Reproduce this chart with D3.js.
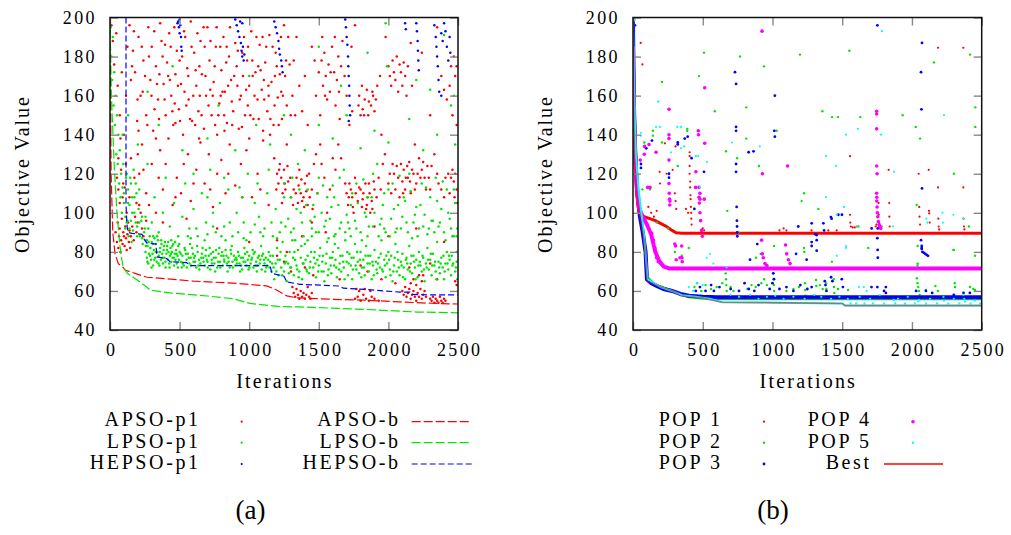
<!DOCTYPE html>
<html>
<head>
<meta charset="utf-8">
<script src="https://cdn.jsdelivr.net/npm/d3@7"></script>
<style>
  body { margin: 0; background: #fff; }
  text { font-family: "Liberation Serif", serif; fill: #000; }
  .tick text { font-size: 18px; letter-spacing: 2.4px; font-family: "Liberation Serif", serif; }
  .tick line { stroke: #888; stroke-width: 1.4; }
  .domain { display: none; }
</style>
</head>
<body>
<script>
// ---- shared axis values ----
const xTicks = [0, 500, 1000, 1500, 2000, 2500];
const yTicks = [40, 60, 80, 100, 120, 140, 160, 180, 200];

// ---- panel (a) ----
const legendA1 = ["APSO-p1", "LPSO-p1", "HEPSO-p1"];
const legendA2 = ["APSO-b", "LPSO-b", "HEPSO-b"];

const apsoB = [[0,200],[8,120],[20,90],[36,79],[60,74],[95,72],[108,70.7],[180,69],[265,67],[410,66.2],[600,65],[885,64],[1125,62.6],[1197,60.5],[1270,57.5],[1340,56.5],[1600,55.7],[1820,55.3],[2083,54.4],[2300,53.7],[2500,53.3]];
const lpsoB = [[0,200],[10,160],[30,125],[50,100],[70,84],[85,76],[95,72],[125,69],[167,67],[264,62],[287,60.5],[430,59],[700,57.4],[885,56],[1005,53.6],[1221,52],[1365,51.8],[1845,50.5],[2205,49.2],[2500,48.8]];
const hepsoB = [[115,200],[115,104],[120,96],[125,92],[130,90],[158,89.5],[230,89],[240,87],[265,84.5],[330,84],[337,77.4],[410,76.5],[431,75],[550,74.5],[575,73],[1150,73],[1163,69],[1250,67.5],[1270,64.6],[1365,63.4],[1650,62.5],[1675,61.4],[1850,60.7],[2083,59.4],[2155,59.4],[2170,58.2],[2320,58],[2500,58]];

const apsoP1 = [
  // upper region
  [10,196],[20,188],[30,176],[45,192],[55,165],[70,150],[85,172],[100,140],[115,160],
  [140,196],[165,183],[180,172],[205,190],[220,160],[240,178],[260,150],[275,195],[290,168],[300,185],[310,142],[330,175],[345,158],[360,197],[370,188],[385,166],[400,150],[410,177],[425,192],[440,160],[455,145],[470,171],[480,183],[495,153],[510,166],[525,140],[540,190],[555,174],[565,158],[580,198],[590,147],[605,182],[620,165],[635,152],[650,188],[660,171],[675,143],[690,160],[700,195],[715,178],[730,150],[745,167],[760,185],[770,140],[785,156],[800,173],[815,190],[825,162],[840,146],[855,180],[870,168],[885,152],[900,187],[910,175],[925,143],[940,160],[955,170],[970,150],[985,178],[1000,165],[1015,193],[1030,148],[1045,172],[1060,158],[1075,186],[1090,163],[1100,142],[1115,177],[1130,152],[1145,191],[1160,167],[1175,145],[1190,182],[1205,159],[1220,171],[1235,148],[1250,196],[1270,155],[1290,176],
  [150,168],[195,147],[235,162],[280,180],[320,153],[355,171],[395,186],[430,168],[465,156],[500,178],[535,162],[575,148],[615,173],[645,160],[680,185],[720,163],[755,145],[795,160],[835,177],[875,157],[915,165],[950,182],[990,155],[1025,170],[1065,175],[1105,168],[1140,160],[1185,170],[1230,162],[1265,178],
  [125,185],[158,175],[172,193],[198,158],[228,185],[252,170],[268,145],[298,160],[318,193],[338,166],[352,148],[378,180],[392,158],[418,170],[436,185],[448,152],[462,195],[488,165],[503,147],[518,180],[532,193],[548,155],[562,170],[586,185],[598,160],[612,145],[628,192],[642,175],[658,150],[672,195],[686,170],[708,155],[722,188],[738,160],[752,175],[766,195],[778,150],[792,185],[808,162],[822,142],[838,185],[848,165],[862,195],[878,145],[892,170],[918,183],[932,158],[948,144],[962,190],[978,163],[992,185],[1008,150],[1022,178],[1038,160],[1052,190],[1068,148],[1082,173],[1096,190],[1108,158],[1122,185],[1138,165],[1152,148],[1168,185],[1182,155],[1198,175],[1212,145],[1228,190],[1242,160],[1258,170],[1280,190],[1298,150],
  [205,142],[330,138],[470,146],[640,138],[820,150],[1000,138],[1150,140],[1270,135],
  [1320,178],[1340,190],[1360,165],[1380,152],[1400,170],[1420,145],[1450,185],[1480,160],[1500,172],[1510,150],[1520,178],[1530,165],[1540,182],[1550,170],[1560,158],[1570,176],[1580,162],[1595,185],[1610,172],[1620,155],[1630,168],[1640,180],[1650,148],[1660,175],[1670,188],[1700,160],[1720,145],[1740,152],[1760,196],[1790,160],[1800,150],[1815,153],[1830,158],[1845,163],[1860,157],[1875,155],[1890,160],[1900,152],[1920,165],[1950,140],[1980,190],[2000,175],[2010,170],[2030,178],[2050,168],[2070,162],[2090,172],[2100,165],[2110,177],[2130,160],[2160,187],[2190,135],[2240,182],[2300,150],[2350,195],[2380,170],[2400,163],[2420,158],[2450,175],[2480,170],[2490,145],
  [1310,160],[1330,150],[1470,178],[1525,190],[1545,160],[1585,172],[1615,190],[1645,162],[1685,170],[1735,185],[1785,155],[1810,165],[1825,150],[1855,150],[1885,162],[1910,158],[1940,170],[2020,165],[2040,172],[2060,180],[2080,176],[2120,170],[2140,175],[2170,165],[2440,165],[2460,150],[2470,180],[2490,175],
  // middle region
  [50,118],[60,112],[70,105],[80,122],[90,108],[105,113],[120,100],[150,128],[190,105],[210,120],[230,135],[260,110],[300,125],[330,100],[360,132],[380,112],[420,138],[450,104],[480,118],[510,110],[530,125],[560,130],[580,106],[620,122],[650,136],[680,115],[710,130],[740,103],[770,120],[800,127],[830,110],[860,135],[900,114],[940,125],[980,132],[1020,108],[1060,120],[1100,137],[1140,104],[1180,128],[1200,120],[1210,115],[1220,125],[1230,118],[1240,110],[1250,122],[1260,112],[1280,116],[1300,108],[1320,112],[1340,118],[1350,105],[1360,122],[1370,110],[1380,106],[1390,108],[1400,115],[1410,111],[1420,104],[1430,120],[1450,112],[1480,130],[1520,125],[1560,100],[1600,128],[1640,135],[1700,110],[1710,104],[1720,115],[1740,108],[1750,100],[1760,118],[1780,106],[1800,112],[1810,103],[1820,110],[1840,102],[1850,108],[1860,115],[1870,100],[1880,106],[1900,112],[1930,118],[1960,125],[2000,115],[2020,110],[2040,120],[2060,124],[2080,108],[2100,116],[2110,122],[2120,112],[2140,118],[2150,126],[2160,110],[2180,120],[2200,115],[2220,128],[2240,122],[2260,118],[2280,124],[2300,112],[2330,130],[2360,115],[2400,108],[2430,120],[2450,118],[2460,122],[2470,116],[2480,120],[2490,112],[2495,105],
  [1195,112],[1215,122],[1235,105],[1255,115],[1275,124],[1295,118],[1315,104],[1335,110],[1355,114],[1375,117],[1395,103],[1415,119],[1435,108],[1455,102],[1465,125],[1490,110],[1510,135],[1540,118],[1580,112],[1620,122],[1660,128],[1690,115],[1715,108],[1730,112],[1745,103],[1765,110],[1790,113],[1815,107],[1835,115],[1845,104],[1865,110],[1885,102],[1895,116],[1915,108],[1945,112],[1975,130],[2010,120],[2030,125],[2050,112],[2070,118],[2090,125],[2105,110],[2125,118],[2135,124],[2155,116],[2170,122],[2190,112],[2210,120],[2230,118],[2250,126],[2270,112],[2290,118],[2310,124],[2350,120],[2380,112],[2410,118],[2440,110],[2475,108],
  [60,128],[75,138],[95,115],[115,125],[140,108],[175,118],[200,130],[240,122],[280,104],[350,118],[400,125],[470,108],[600,115],[720,112],[850,120],[950,108],[1080,112],
  // early cluster
  [40,90],[50,85],[55,95],[60,82],[65,88],[70,92],[75,80],[80,86],[85,97],[90,84],[95,90],[100,88],[105,83],[110,93],[115,87],[120,81],[125,89],[130,95],[135,85],[140,91],[145,82],[150,88],[160,93],[170,86],[180,98],[190,90],[200,95],[210,104],[220,100],[230,92],[240,88],[260,96],
  [380,95],[550,97],[770,92],[1000,85],[1200,86],[1270,80],[1380,88],[1450,95],[1550,90],[1900,93],[2000,88],[2200,92],[2400,85],
  [1200,78],[1250,75],[1300,70],[1400,72],[1460,68],[1650,66],[1800,73],[1850,70],[1950,66],[2050,64],[2150,72],[2250,68],[2300,74],[2350,66],[2480,65],[2490,63],
  // low clusters
  [1310,62],[1320,59],[1330,57],[1340,61],[1350,58],[1360,56],[1370,60],[1380,57],[1390,59],[1400,56],[1410,58],[1420,62],[1430,57],[1440,56],[1450,59],
  [1760,56],[1780,57],[1800,55],[1820,58],[1840,56],[1860,55],[1880,57],[1900,56],[1930,55],[1770,61],[1790,60],[1830,61],[1870,60],
  [2100,60],[2110,58],[2120,62],[2130,57],[2140,59],[2150,61],[2160,56],[2170,58],[2180,60],[2190,57],[2200,55],[2210,59],[2220,57],[2230,61],[2240,56],[2250,58],[2260,60],[2270,57],[2300,56],[2310,55],[2320,57],[2330,54],[2340,56],[2350,55],[2360,54],[2370,57],[2380,55],[2390,54],[2400,56],[2410,55],
  [2160,64],[2180,66],[2200,63],[2220,68],[2240,65]
];

const lpsoP1 = [
  // dense band
  [255,80],[260,86],[265,77],[270,83],[275,74],[280,79],[285,88],[290,82],[295,76],[300,85],[305,79],[310,73],[315,81],[320,87],[325,77],[330,84],[335,75],[340,80],[345,86],[350,78],[355,73],[360,82],[365,76],[370,84],[375,79],[380,74],[385,81],[390,77],[395,85],[400,72],[405,79],[410,83],[415,76],[420,80],[425,74],[430,78],[435,82],[440,75],[445,80],[450,77],[455,84],[460,73],[465,79],[470,76],[475,81],[480,74],[485,78],[490,83],[495,76],[500,80],
  [510,75],[520,78],[530,73],[540,81],[550,76],[560,79],[570,74],[580,77],[590,82],[600,75],[610,78],[620,72],[630,80],[640,76],[650,74],[660,79],[670,77],[680,73],[690,81],[700,75],[710,78],[720,71],[730,76],[740,80],[750,74],[760,77],[770,72],[780,79],[790,75],[800,78],[810,73],[820,76],[830,81],[840,74],[850,77],[860,72],[870,79],[880,75],[890,78],[900,73],[910,76],[920,80],[930,74],[940,77],[950,71],[960,75],[970,79],[980,73],[990,76],[1000,78],[1010,74],[1020,77],[1030,72],[1040,80],[1050,75],[1060,73],[1070,78],[1080,76],[1090,71],[1100,79],[1110,74],[1120,77],[1130,73],[1140,80],[1150,75],
  [515,72],[545,79],[575,84],[605,77],[635,73],[665,82],[695,76],[725,79],[755,70],[785,82],[815,78],[845,70],[875,83],[905,77],[935,70],[965,82],[995,71],[1025,81],[1055,70],[1085,83],[1115,70],[1145,72],
  [258,83],[268,75],[278,85],[288,78],[298,72],[308,84],[318,76],[328,80],[338,88],[348,74],[358,80],[368,86],[378,77],[388,83],[398,75],[408,81],[418,85],[428,72],[438,79],[448,83],[458,77],[468,85],[478,79],[488,72],[498,84],[508,79],[522,74],[536,82],[552,72],[566,77],[582,73],[596,79],[612,75],[626,83],[642,71],[656,77],[672,75],[686,78],[702,72],[716,82],[732,74],[746,77],[762,81],[776,75],[792,72],[806,80],[822,75],[836,78],[852,75],[866,81],[882,72],[896,76],[912,74],[926,78],[942,73],[956,77],[972,75],[986,80],[1002,72],[1016,76],[1032,79],[1046,73],[1062,77],[1076,74],[1092,78],[1106,76],[1122,72],[1136,76],[1152,78],
  [1160,70],[1170,78],[1180,66],[1190,74],[1200,82],[1210,68],[1220,76],[1230,72],[1240,85],[1250,70],[1260,78],[1270,65],[1280,74],[1290,80],[1300,72],[1310,86],[1320,68],[1330,76],[1340,73],[1350,81],[1360,70],[1370,77],[1380,66],[1390,74],[1400,84],[1410,71],[1420,78],[1430,69],[1440,75],[1450,88],[1460,72],[1470,80],[1480,67],[1490,76],[1500,73],[1510,82],[1520,70],[1530,78],[1540,65],[1550,74],[1560,85],[1570,71],[1580,77],[1590,69],[1600,80],[1610,73],[1620,76],[1630,67],[1640,82],[1650,74],[1660,70],[1670,78],[1680,72],[1690,86],[1700,75],[1710,68],[1720,79],[1730,73],[1740,66],[1750,77],[1760,84],[1770,71],[1780,75],[1790,69],[1800,80],[1810,72],[1820,76],[1830,68],[1840,83],[1850,74],[1860,70],[1870,78],[1880,66],[1890,73],[1900,81],[1910,75],[1920,69],[1930,77],[1940,72],[1950,86],[1960,70],[1970,76],[1980,67],[1990,74],[2000,80],[2010,71],[2020,78],[2030,65],[2040,73],[2050,84],[2060,70],[2070,76],[2080,68],[2090,75],[2100,79],[2110,72],[2120,66],[2130,77],[2140,71],[2150,83],[2160,74],[2170,69],[2180,78],[2190,72],[2200,76],[2210,67],[2220,80],[2230,73],[2240,70],[2250,77],[2260,65],[2270,74],[2280,82],[2290,71],[2300,76],[2310,68],[2320,79],[2330,73],[2340,70],[2350,85],[2360,75],[2370,69],[2380,77],[2390,72],[2400,66],[2410,74],[2420,80],[2430,71],[2440,76],[2450,68],[2460,73],[2470,88],[2480,70],[2490,75],[2495,66],
  [1165,74],[1195,70],[1225,80],[1255,74],[1285,69],[1315,77],[1345,71],[1375,83],[1405,76],[1435,72],[1465,77],[1495,70],[1525,75],[1555,79],[1585,73],[1615,84],[1645,71],[1675,75],[1705,80],[1735,77],[1765,73],[1795,76],[1825,72],[1855,78],[1885,75],[1915,71],[1945,79],[1975,73],[2005,76],[2035,70],[2065,80],[2095,73],[2125,76],[2155,70],[2185,75],[2215,73],[2245,78],[2275,72],[2305,79],[2335,75],[2365,72],[2395,78],[2425,74],[2455,78],[2485,72],
  [1175,72],[1205,76],[1235,68],[1265,75],[1295,72],[1325,80],[1355,67],[1385,74],[1415,70],[1445,80],[1475,74],[1505,78],[1535,70],[1565,68],[1595,77],[1625,72],[1655,78],[1685,66],[1715,74],[1745,71],[1775,80],[1805,67],[1835,78],[1865,74],[1895,68],[1925,74],[1955,71],[1985,78],[2015,68],[2045,77],[2075,72],[2105,67],[2135,74],[2165,78],[2195,66],[2225,75],[2255,71],[2285,76],[2315,73],[2345,66],[2375,74],[2405,70],[2435,78],[2465,74],[2490,80],
  // early cluster
  [130,112],[140,104],[150,96],[160,108],[165,91],[175,100],[185,115],[195,93],[205,102],[215,88],[225,96],[235,84],[245,90],[255,98],[265,86],[275,92],[120,95],[135,88],[155,85],[145,118],[170,122],[190,110],[210,95],[230,87],
  // middle scatter
  [100,110],[110,98],[120,120],[130,105],[140,92],[150,115],[160,100],[175,108],[185,95],[195,88],[210,112],[230,98],[250,92],[270,125],[300,95],[320,108],[350,90],[380,100],[400,118],[430,93],[460,105],[490,88],[520,98],[540,115],[570,92],[600,102],[630,88],[660,110],[690,95],[720,122],[740,100],[760,90],[790,105],[820,93],[850,112],[880,88],[910,100],[930,113],[960,95],[990,120],[1010,90],[1040,105],[1070,98],[1100,88],[1130,110],[1160,95],[1190,102],[1220,90],[1250,115],[1280,97],[1300,108],[1320,92],[1350,125],[1370,100],[1390,88],[1420,112],[1440,96],[1460,104],[1480,90],[1500,118],[1520,100],[1540,93],[1560,108],[1580,97],[1600,114],[1620,89],[1640,104],[1660,95],[1680,122],[1700,99],[1720,92],[1740,110],[1760,96],[1780,105],[1800,90],[1820,117],[1840,98],[1860,93],[1880,108],[1900,100],[1920,125],[1940,94],[1960,104],[1980,90],[2000,112],[2020,97],[2040,102],[2060,92],[2080,119],[2100,98],[2120,106],[2140,90],[2160,111],[2180,95],[2200,103],[2220,92],[2240,115],[2260,99],[2280,89],[2300,108],[2320,96],[2340,118],[2360,93],[2380,102],[2400,90],[2420,112],[2440,97],[2460,88],[2480,105],[2495,92],
  [310,88],[440,86],[580,87],[700,89],[830,86],[960,87],[1080,90],[1200,87],[1330,86],[1450,92],[1570,87],[1690,90],[1810,86],[1930,88],[2050,90],[2170,87],[2290,92],[2410,86],
  [1230,95],[1340,102],[1470,98],[1590,103],[1710,95],[1830,100],[1950,97],[2070,104],[2190,99],[2310,96],[2430,100],
  [560,88],[620,92],[680,86],[740,93],[800,88],[860,95],[920,90],[980,86],[1040,94],[1110,92],[1170,88],[1260,93],[1300,90],[1380,95],[1420,86],[1500,90],[1550,96],[1610,88],[1650,92],[1730,88],[1770,92],[1850,88],[1890,93],[1970,92],[2010,88],[2090,92],[2130,95],[2210,88],[2250,93],[2330,90],[2370,95],[2450,92],[2490,88],
  [1250,108],[1310,118],[1360,112],[1410,104],[1490,110],[1530,114],[1610,108],[1650,118],[1730,104],[1770,115],[1850,108],[1890,120],[1970,110],[2030,115],[2110,108],[2150,120],[2230,104],[2270,113],[2350,106],[2390,116],[2470,112],[600,120],[700,108],[820,118],[950,108],[1060,115],[1140,122],
  // sparse upper
  [90,140],[130,150],[200,135],[350,145],[520,132],[700,138],[780,155],[900,132],[1050,145],[1150,135],[1250,150],[1300,140],[1400,132],[1500,145],[1600,138],[1700,150],[1800,133],[1900,142],[2000,136],[2150,148],[2250,132],[2350,140],[2450,155],[2480,135],
  [5,195],[10,180],[15,168],[20,190],[25,155],[30,172],[35,145],[40,160],[45,130],[50,150],[55,125],[60,140],[65,115],[70,132],[75,108],[80,120],[85,100],[90,113],[95,125],[100,105],[110,92],[115,118],[125,96],
  [270,162],[450,175],[1000,170],[1500,185],[1660,165],[1850,182],[1980,197],[1990,175],[2200,168],[2300,163],[2470,160],[2400,191]
];

const hepsoP1 = [
  [490,198],[495,195],[500,192],[505,196],[510,190],[512,185],[515,183],[500,199],[485,197],
  [900,199],[910,196],[920,193],[930,190],[940,187],[945,183],[950,180],[955,185],[960,178],[965,181],[935,198],[950,197],
  [1180,198],[1190,195],[1200,192],[1210,188],[1215,184],[1220,181],[1230,178],[1235,175],[1240,172],
  [1690,199],[1695,195],[1700,190],[1705,186],[1710,180],[1712,175],[1715,170],[1718,165],[1720,160],[1722,155],[1725,150],[1715,147],
  [2120,197],[2125,194],
  [2200,197],[2205,193],[2210,188],[2212,183],[2215,178],[2218,173],
  [2330,196],[2340,190],[2345,185],[2350,180],[2355,175],[2360,168],[2365,162],[2380,192],[2390,188],[2400,197],[2410,193],[2420,185],[2430,178],[2440,190],[2445,182],[2380,160]
];

// ---- panel (b) ----
const legendB1 = ["POP 1", "POP 2", "POP 3"];
const legendB2 = ["POP 4", "POP 5", "Best"];

const bestLine = [[0,200],[3,160],[10,130],[25,110],[50,98],[80,86],[95,76],[100,65],[150,63.5],[200,62],[250,61],[300,59.5],[340,57.5],[400,57],[500,56.5],[550,55.5],[640,54.2],[1000,54],[1500,53.6],[1520,52.5],[2500,52.5]];

const pop1Band = [[0,200],[8,150],[20,120],[35,105],[50,100],[80,98],[120,97],[160,96],[200,94.5],[240,93],[280,91],[310,89.8],[350,89.5],[2500,89.5]];
const pop2Band = [[0,190],[10,150],[30,115],[60,95],[90,80],[100,67],[150,63.5],[200,62],[260,60.5],[330,58.5],[400,57],[500,56.3],[600,56],[2500,56]];
const pop3Band = [[0,198],[5,160],[15,130],[30,110],[50,98],[70,90],[90,80],[100,66],[130,64],[170,62.5],[220,61],[280,60],[340,58.5],[400,57.5],[500,57],[600,56.8],[2500,56.8]];
const pop4Band = [[0,185],[10,140],[25,115],[40,103],[70,98],[100,94],[130,89],[160,80],[190,75],[220,72.5],[260,71.5],[2500,71.5]];
const pop5Band = [[0,200],[8,160],[20,130],[40,112],[60,100],[80,88],[95,75],[105,66],[150,64],[200,62],[280,60],[350,57.8],[450,57],[550,56],[640,54.2],[1000,54],[1500,53.6],[1520,52.5],[2500,52.5]];

const pop1Dots = [[55,187],[67,176],[229,135.6],[241,120],[305,134],[284,122],[191,121],[194,115],[406,131],[406,129],[406,124],[406,120],[410,116],[410,113],[412,109],[413,107],[415,103],[417,100],[418,97],[420,94],[300,110],[305,106],[310,102],[380,102],[395,100],[150,98],[170,101],[110,103],[130,100],[1556,129],[1556,99],[1558,95],[1562,93],[1575,92.5],[1590,92.5],[1605,93],[1761,105],[1762,99],[1764,95],[1766,93],[1833,122],[1837,105],[1838,98],[1840,93],[2048,120],[2052,103],[2054,98],[2058,94],[2120,122],[2122,101],[2124,99.7],[2127,95],[2187,113],[2187,184.5],[2189,97],[2192,93],[2195,91.5],[2368,184.5],[2368,113],[2370,97],[2373,93],[2376,91.5],[500,92],[510,91],[1050,91],[1080,92],[1100,91],[1280,91],[1400,91],[1460,91],[1740,93],[1745,94]];
const pop2Dots = [[509,182],[767,180],[939,175],[1197,181],[1551,183],[2416,181],[2158,177],[473,170],[208,167],[587,152],[812,154],[1358,152],[1427,149],[1470,149],[1630,149],[1933,150],[2454,154],[2454,144],[2027,144],[2058,138],[143,142],[143,139.5],[389,143],[389,142],[81,136],[208,136],[812,138],[1030,142],[667,131.5],[746,128],[903,124],[321,124],[67,112],[122,112],[2301,120],[1226,110],[1209,106],[1329,102],[2034,104],[676,101],[755,90],[1616,93],[1783,93],[2408,93],[2297,81],[2452,78],[2041,83],[2041,74],[1687,82],[1226,82],[1011,83],[882,77],[915,79],[1426,75],[1228,80],[2040,73],[2301,81],[170,95],[250,92],[300,80],[350,78],[200,75],[400,82],
  [665,69],[667,66],[669,63],[672,60],[1005,69],[1008,66],[1010,63],[1012,60],[1233,64],[1235,60.5],[1237,57.5],[1312,65.6],[1314,62.5],[1384,64],[1386,61],[1439,66],[1441,62],[1443,59],[1470,61],[1542,60.5],[2035,66.5],[2040,64],[2045,62],[2050,60],[2055,58],[2100,60.5],[2168,62.5],[2187,60],[2307,64],[2309,62],[2416,62],[2440,61],[2452,60.5],[440,62],[460,64],[490,60],[520,63],[560,61],[600,62],[640,64],[700,62],[720,60],[820,61],[850,63],[880,62],[920,64],[940,66],[960,63],[1100,60],[1150,61],[1190,62],[1340,63],[1360,61]];
const pop3Dots = [[14,196],[731,172],[739,166],[739,144],[739,142],[739,125],[739,121],[743,103],[745,96],[746,93],[747,90],[748,88],[1017,160],[1017,139],[1013,142],[1006,69],[1011,66],[1752,196],[1752,87],[1754,81],[1755,77],[1755,92],[1711,92],[2072,187],[2065,172],[2068,153],[2072,112.5],[2065,86],[2070,82],[2075,80],[2085,79.5],[2095,79],[2105,78.5],[2115,78],[371,138],[136,137],[321,136],[321,135],[95,133],[864,131.5],[420,128],[57,125],[57,123],[258,120],[258,118],[509,121],[392,139],[440,102],[829,131],[839,76],[891,84],[1169,79],[1185,93],[1245,76],[1281,85],[1307,89],[1317,86],[1370,91],[1424,97],[1472,99],[1281,94.6],[1317,88.6],[1365,94.6],[1419,97.8],[1498,99],[1281,83],[1317,80.6],[2070,83],[2070,81.5],
  [1281,62],[1375,65],[1380,63],[1387,60],[1420,67],[1430,65],[1497,66],[1505,62],[1710,62],[1752,62],[1800,60],[1813,62],[1813,59],[2030,60],[2100,60],[2145,59],[2300,58],[2370,59],[2415,59],[450,60],[480,62],[520,60],[560,63],[580,60],[620,62],[700,61],[760,60],[800,64],[830,61],[870,60],[900,63],[980,61],[1000,64],[1050,61],[1100,62],[1150,60],[1200,63],[1250,61]];
const pop4Dots = [[925,193],[514,164],[258,153],[1747,152],[1747,150.6],[1747,143],[468,142],[470,140],[258,140],[258,138],[514,135.6],[115,135],[83,134],[165,131],[81,130],[52,127],[1108,124],[1747,124],[1750,120],[451,121],[928,120],[449,113],[258,127],[258,115],[260,110],[262,107],[264,104],[105,113],[122,113],[473,113],[473,108],[476,105],[480,100],[485,96],[492,91],[497,88],[511,107],[480,110],[480,107],[265,106],[349,83],[351,77],[353,75],[337,77],[922,86],[927,79],[934,77],[946,74],[960,73],[1094,83.5],[1102,79],[1114,76],[1126,74],[1747,110],[1748,108],[1748,106],[1750,103],[1752,100],[1755,98],[1759,95.5],[1765,94],[1771,93],[1776,92],[134,89.5],[146,86],[157,82],[169,77],[181,75],[300,84],[305,83],[310,76]];
const pop5Dots = [[14,199],[182,157],[179,157],[194,144],[165,144],[344,144],[318,144],[57,141],[57,139.5],[344,133],[366,134],[272,131],[451,129],[710,136],[909,134],[530,126],[468,129],[480,113],[1785,193],[2230,150],[1613,143],[1527,140],[1778,140],[1384,129],[1455,124],[1871,121],[1384,108],[1461,99],[1513,103],[1527,83],[1527,82],[1461,78],[1608,93],[1864,93],[2103,97],[2110,95],[2223,95],[2368,97],[2218,100],[2297,99],[552,79],[576,74],[671,72],[528,77],[1620,62],[1655,62],[1675,60],[1625,57],[1871,55.4],[2045,54.6],[2050,55.5],[2226,57],[2230,55],[2368,58],[2375,56],[2380,54.5],[700,58],[760,57],[840,58],[900,56],[960,57],[1020,57.5],[1080,56],[1150,57],[1230,56],[1300,58],[1350,57],[1420,56],[1480,57],[1540,56],[1700,56],[1770,58],[1900,56],[1970,57],[2130,56],[2300,56],[2450,55],[400,62],[430,60],[460,64],[500,63],
  [1560,53.6],[1600,53.6],[1660,53.5],[1720,53.6],[1800,53.5],[1880,53.6],[1950,53.5],[2020,53.6],[2100,53.5],[2180,53.6],[2260,53.5],[2340,53.6],[2420,53.5],[2490,53.6]];

// ---- drawing ----
const W = 1011, H = 535;
const svg = d3.select("body").append("svg").attr("width", W).attr("height", H);

function makePanel(id, left, right) {
  const x = d3.scaleLinear().domain([0, 2500]).range([left, right]);
  const y = d3.scaleLinear().domain([40, 200]).range([330, 17.5]);
  svg.append("clipPath").attr("id", "clip" + id)
    .append("rect").attr("x", left).attr("y", 17.5).attr("width", right - left).attr("height", 330 - 17.5);
  const plot = svg.append("g").attr("clip-path", `url(#clip${id})`);
  return { x, y, plot, left, right };
}

function drawAxes(p) {
  const { x, y, left, right } = p;
  const fmt = d3.format("d");
  const ax = svg.append("g");
  ax.append("g").attr("transform", "translate(0,330)")
    .call(d3.axisBottom(x).tickValues(xTicks).tickFormat(fmt).tickSize(-8).tickSizeOuter(0).tickPadding(13))
    .selectAll("text").attr("dx", "1.2");
  ax.append("g").attr("transform", "translate(0,17.5)")
    .call(d3.axisTop(x).tickValues(xTicks).tickSize(-8).tickSizeOuter(0).tickFormat(""));
  ax.append("g").attr("transform", `translate(${left},0)`)
    .call(d3.axisLeft(y).tickValues(yTicks).tickFormat(fmt).tickSize(-8).tickSizeOuter(0).tickPadding(15))
    .selectAll("text").attr("dx", "2");
  ax.append("g").attr("transform", `translate(${right},0)`)
    .call(d3.axisRight(y).tickValues(yTicks).tickSize(-8).tickSizeOuter(0).tickFormat(""));
  ax.selectAll("g").attr("font-family", null);
  ax.append("rect").attr("x", left).attr("y", 17.5).attr("width", right - left).attr("height", 330 - 17.5)
    .attr("fill", "none").attr("stroke", "#111").attr("stroke-width", 1.5);
  const cx = (left + right) / 2;
  ax.append("text").attr("x", cx + 1).attr("y", 388).attr("text-anchor", "middle")
    .style("font-size", "20px").style("letter-spacing", "2.2px").text("Iterations");
  ax.append("text").attr("transform", `translate(${left - 81},174) rotate(-90)`).attr("text-anchor", "middle")
    .style("font-size", "20px").style("letter-spacing", "2px").text("Objective Value");
}

function dots(p, data, color, r) {
  p.plot.append("g").selectAll("circle").data(data).join("circle")
    .attr("cx", d => p.x(d[0])).attr("cy", d => p.y(d[1])).attr("r", r).attr("fill", color);
}

function path(p, data, color, width, dash, opacity) {
  const line = d3.line().x(d => p.x(d[0])).y(d => p.y(d[1]));
  p.plot.append("path").datum(data).attr("d", line).attr("fill", "none")
    .attr("stroke", color).attr("stroke-width", width)
    .attr("stroke-dasharray", dash || null).attr("stroke-opacity", opacity || 1);
}

const RED = "#ff0000", GREEN = "#00e600", BLUE = "#0000ff", MAGENTA = "#ff00ff", CYAN = "#00ffff";

// panel (a)
const pa = makePanel("a", 110, 458);
dots(pa, apsoP1, RED, 1.25);
dots(pa, lpsoP1, GREEN, 1.25);
dots(pa, hepsoP1, BLUE, 1.25);
path(pa, apsoB, RED, 1.2, "9,3");
path(pa, lpsoB, GREEN, 1.2, "9,3");
path(pa, hepsoB, BLUE, 1.2, "6,3");
drawAxes(pa);

// panel (b)
const pb = makePanel("b", 633, 981.7);
path(pb, pop1Band, RED, 3);
dots(pb, pop1Dots, RED, 1.1);
path(pb, pop2Band, GREEN, 3);
dots(pb, pop2Dots, GREEN, 1.2);
path(pb, pop3Band, BLUE, 4);
dots(pb, pop3Dots, BLUE, 1.4);
path(pb, pop4Band, MAGENTA, 4);
dots(pb, pop4Dots, MAGENTA, 1.8);
path(pb, pop5Band, CYAN, 2);
dots(pb, pop5Dots, CYAN, 1.1);
path(pb, bestLine, RED, 1.6, null, 0.5);
drawAxes(pb);

// legends
function legendText(x, y, s) {
  svg.append("text").attr("x", x).attr("y", y).attr("text-anchor", "end")
    .attr("dx", 2.6).style("font-size", "20px").style("letter-spacing", "2.6px").text(s);
}
const rowsY = [426, 447.5, 469];
const symY = [421.7, 442.7, 464];
const colA = [RED, GREEN, BLUE];
legendA1.forEach((s, i) => {
  legendText(198, rowsY[i], s);
  svg.append("circle").attr("cx", 241.7).attr("cy", symY[i]).attr("r", 1.1).attr("fill", colA[i]);
});
legendA2.forEach((s, i) => {
  legendText(398, rowsY[i], s);
  svg.append("line").attr("x1", 411.7).attr("x2", 471.7).attr("y1", symY[i]).attr("y2", symY[i])
    .attr("stroke", colA[i]).attr("stroke-width", 1.2).attr("stroke-dasharray", i == 2 ? "6,3" : "9,3");
});
const colB1 = [RED, GREEN, BLUE], rB1 = [1.1, 1.2, 1.4];
legendB1.forEach((s, i) => {
  legendText(720, rowsY[i], s);
  svg.append("circle").attr("cx", 764).attr("cy", symY[i]).attr("r", rB1[i]).attr("fill", colB1[i]);
});
legendB2.forEach((s, i) => {
  legendText(869, rowsY[i], s);
  if (i < 2) {
    svg.append("circle").attr("cx", 913).attr("cy", symY[i]).attr("r", i == 0 ? 1.8 : 1.2).attr("fill", i == 0 ? MAGENTA : CYAN);
  } else {
    svg.append("line").attr("x1", 884).attr("x2", 943).attr("y1", symY[i]).attr("y2", symY[i])
      .attr("stroke", RED).attr("stroke-width", 1.4);
  }
});

svg.append("text").attr("x", 250.5).attr("y", 519).attr("text-anchor", "middle").style("font-size", "27px").text("(a)");
svg.append("text").attr("x", 773).attr("y", 519).attr("text-anchor", "middle").style("font-size", "27px").text("(b)");
</script>
</body>
</html>
